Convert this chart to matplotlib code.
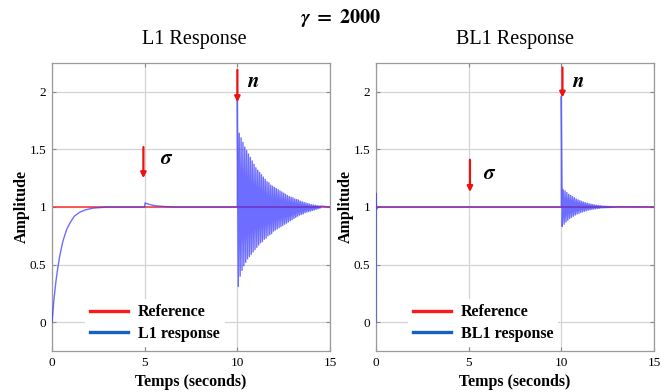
import numpy as np
import matplotlib
matplotlib.use('Agg')
import matplotlib.pyplot as plt
from matplotlib.lines import Line2D

plt.rcParams['font.family'] = ['Liberation Serif', 'DejaVu Serif']
plt.rcParams['mathtext.fontset'] = 'stix'

# L1 response: start-up and the small sigma bump (time [s], amplitude)
l1_t = [0.0, 0.1, 0.2, 0.3, 0.4, 0.5, 0.6, 0.8, 1.0, 1.2, 1.5, 1.8, 2.2, 2.6,
        3.0, 4.0, 5.0, 5.02, 5.3, 5.6, 6.0, 6.5, 10.0]
l1_y = [0.0, 0.19, 0.34, 0.46, 0.56, 0.64, 0.71, 0.81, 0.87, 0.92, 0.955, 0.975,
        0.99, 0.995, 1.0, 1.0, 1.0, 1.035, 1.02, 1.01, 1.005, 1.0, 1.0]
# L1 response to the noise n at t = 10 s: spike, then peaks / troughs
l1_spike = 1.93
l1_peaks = [1.64, 1.60, 1.56, 1.52, 1.49, 1.46, 1.43, 1.40, 1.37, 1.34,
            1.32, 1.30, 1.28, 1.26, 1.24, 1.22, 1.21, 1.19, 1.18, 1.17,
            1.16, 1.15, 1.14, 1.13, 1.12, 1.11, 1.10, 1.09, 1.085, 1.08,
            1.07, 1.065, 1.06, 1.05, 1.045, 1.04, 1.035, 1.03, 1.025, 1.02,
            1.018, 1.015, 1.012, 1.01, 1.008]
l1_troughs = [0.31, 0.40, 0.45, 0.49, 0.52, 0.55, 0.57, 0.59, 0.61, 0.63,
              0.65, 0.67, 0.69, 0.70, 0.72, 0.73, 0.75, 0.76, 0.77, 0.79,
              0.80, 0.81, 0.82, 0.83, 0.84, 0.85, 0.86, 0.87, 0.88, 0.89,
              0.90, 0.91, 0.92, 0.93, 0.935, 0.94, 0.95, 0.955, 0.96, 0.965,
              0.97, 0.975, 0.98, 0.985, 0.99]

# BL1 response
bl1_t = [0.0, 0.005, 0.03, 0.08, 10.0]
bl1_y = [0.0, 1.12, 0.98, 1.0, 1.0]
bl1_spike = 1.96
bl1_peaks = [1.15, 1.14, 1.125, 1.11, 1.10, 1.09, 1.08, 1.07, 1.062, 1.055,
             1.048, 1.042, 1.037, 1.032, 1.028, 1.024, 1.021, 1.018, 1.015, 1.013,
             1.011, 1.009, 1.008, 1.007, 1.006, 1.005, 1.004, 1.003, 1.003, 1.002]
bl1_troughs = [0.83, 0.85, 0.87, 0.885, 0.90, 0.91, 0.92, 0.93, 0.938, 0.945,
               0.952, 0.958, 0.963, 0.968, 0.972, 0.976, 0.979, 0.982, 0.985, 0.987,
               0.989, 0.991, 0.992, 0.993, 0.994, 0.995, 0.996, 0.997, 0.997, 0.998]

t_noise = 10.0
osc_period = 0.1
t_end = 15.0
reference = 1.0


def response(t_start, y_start, spike, peaks, troughs):
    t = list(t_start) + [t_noise]
    y = list(y_start) + [spike]
    for k in range(len(peaks)):
        t += [t_noise + (k + 0.5) * osc_period, t_noise + (k + 1) * osc_period]
        y += [troughs[k], peaks[k]]
    t.append(t_end)
    y.append(reference)
    return t, y


fig = plt.figure(figsize=(6.67, 3.92), dpi=100)
ax_l = fig.add_axes([0.078, 0.1046, 0.4168, 0.7347])
ax_r = fig.add_axes([0.5637, 0.1046, 0.4168, 0.7347])

panels = [
    (ax_l, response(l1_t, l1_y, l1_spike, l1_peaks, l1_troughs), 'L1 response',
     [(4.93, 1.52, 1.25), (10.0, 2.19, 1.91)], [(5.8, 1.41), (10.5, 2.08)], 0.37),
    (ax_r, response(bl1_t, bl1_y, bl1_spike, bl1_peaks, bl1_troughs), 'BL1 response',
     [(5.07, 1.41, 1.13), (10.06, 2.21, 1.95)], [(5.8, 1.28), (10.6, 2.08)], 0.385),
]

for ax, (t, y), name, arrows, labels, leg_x in panels:
    ax.plot([0, t_end], [reference, reference], color='#ff3030', lw=1.1, zorder=2)
    ax.plot(t, y, color='#3535ff', lw=1.0, alpha=0.72, zorder=3)

    for x, y0, y1 in arrows:
        ax.annotate('', xy=(x, y1), xytext=(x, y0),
                    arrowprops=dict(arrowstyle='-|>', color='#ee1111', lw=1.6,
                                    mutation_scale=8, shrinkA=0, shrinkB=0), zorder=5)
    ax.text(labels[0][0], labels[0][1], r'$\boldsymbol{\sigma}$', fontsize=15,
            ha='left', va='center')
    ax.text(labels[1][0], labels[1][1], r'$\boldsymbol{n}$', fontsize=15,
            ha='left', va='center')

    ax.set_xlim(0, 15)
    ax.set_ylim(-0.25, 2.25)
    ax.set_xticks([0, 5, 10, 15])
    ax.set_yticks([0, 0.5, 1, 1.5, 2])
    ax.set_yticklabels(['0', '0.5', '1', '1.5', '2'])
    ax.grid(True, color='#d4d4d4', lw=0.9)
    ax.set_axisbelow(True)
    ax.tick_params(direction='in', length=3, color='#888888', labelsize=9.5,
                   top=True, right=True, pad=4)
    for sp in ax.spines.values():
        sp.set_color('#9a9a9a')
        sp.set_linewidth(0.9)
    ax.set_xlabel('Temps (seconds)', fontsize=11.5, fontweight='bold', labelpad=4)
    ax.set_ylabel('Amplitude', fontsize=11.5, fontweight='bold', labelpad=0)

    handles = [Line2D([], [], color='#ff1a1a', lw=2.4),
               Line2D([], [], color='#1560c0', lw=2.4)]
    leg = ax.legend(handles, ['Reference', name], loc='center',
                    bbox_to_anchor=(leg_x, 0.097), frameon=True, framealpha=1,
                    facecolor='white', edgecolor='none', fancybox=False,
                    prop={'weight': 'bold', 'size': 11.5}, handlelength=2.4,
                    handletextpad=0.6, labelspacing=0.35, borderpad=0.3)
    leg.set_zorder(6)

fig.text(0.292, 0.900, 'L1 Response', fontsize=14.5, ha='center', va='center')
fig.text(0.772, 0.900, 'BL1 Response', fontsize=14.5, ha='center', va='center')
fig.text(0.51, 0.954, r'$\boldsymbol{\gamma}\ \mathbf{=\ 2000}$', fontsize=14.5,
         ha='center', va='center')

fig.savefig('out.png', dpi=100)
